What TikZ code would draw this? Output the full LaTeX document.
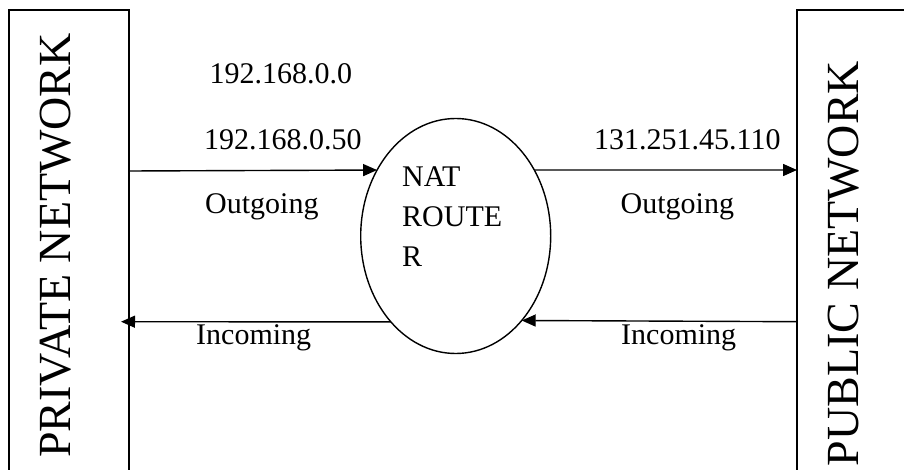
\documentclass[tikz,border=0pt]{standalone}
\usepackage{fontspec}
\setmainfont{Liberation Serif}
\usetikzlibrary{shapes.geometric,arrows.meta}
\begin{document}
\begin{tikzpicture}[x=1pt,y=-1pt,
  netbox/.style={draw,line width=1.6pt,minimum width=120pt,minimum height=520pt,anchor=north west,inner sep=0pt,outer sep=0pt},
  bigtxt/.style={font=\fontsize{46}{54}\selectfont,rotate=90,anchor=base,inner sep=0pt},
  txt/.style={font=\fontsize{30}{40}\selectfont,anchor=base west,inner sep=0pt},
  arr/.style={line width=1.4pt,-{Triangle[length=14pt,width=12pt]}}]
\path[use as bounding box,clip] (0,0) rectangle (904,470);
\node[netbox] (priv) at (9,10) {};
\node[netbox] (pub) at (797,10) {};
\node[bigtxt] (privtxt) at (70.7,245.5) {PRIVATE NETWORK};
\node[bigtxt] (pubtxt) at (858,263.5) {PUBLIC NETWORK};
\node[draw,ellipse,line width=1.4pt,minimum width=190pt,minimum height=235pt,inner sep=0pt,outer sep=0pt] (nat) at (455.7,236) {};
\node[txt] (n1) at (402,186.7) {NAT};
\node[txt] (n2) at (402,227) {ROUTE};
\node[txt] (n3) at (402,266.7) {R};
\node[txt] (ip1) at (209.4,84) {192.168.0.0};
\node[txt] (ip2) at (204,150) {192.168.0.50};
\node[txt] (ip3) at (594,150) {131.251.45.110};
\node[txt] (out1) at (205,214) {Outgoing};
\node[txt] (out2) at (620.5,213.5) {Outgoing};
\node[txt] (in1) at (196,344) {Incoming};
\node[txt] (in2) at (621,344) {Incoming};
\coordinate (inL) at (121,321.7);
\draw[arr] (priv.east |- 0,171) -- (nat.140.6);
\draw[arr] (nat.40) -- (pub.west |- 0,170);
\draw[arr] (pub.west |- 0,321.7) -- (nat.-52.8);
\draw[arr] (nat.-127.2) -- (inL);
\end{tikzpicture}
\end{document}
